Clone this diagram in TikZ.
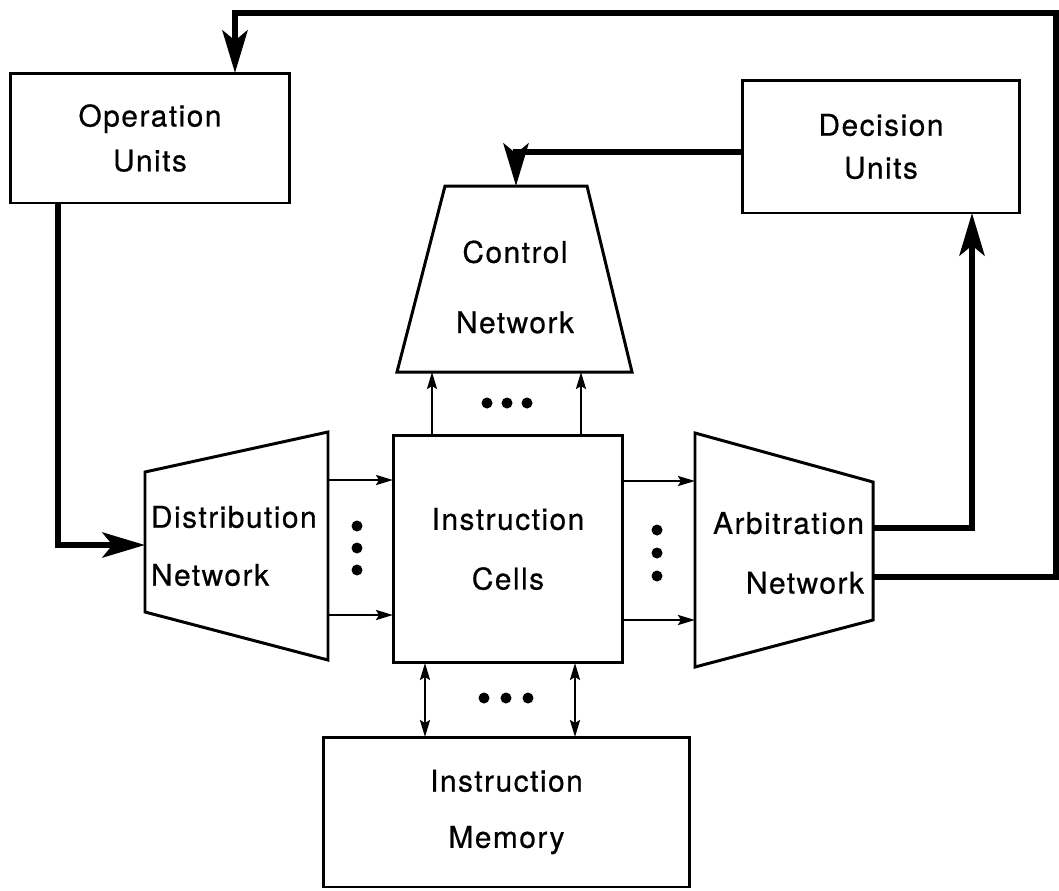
\documentclass[tikz,border=0pt]{standalone}
\usepackage{fontspec}
\setmainfont{TeX Gyre Heros}[LetterSpace=5,FakeBold=0.6]
\usetikzlibrary{calc,positioning,arrows.meta}

\begin{document}
\begin{tikzpicture}[x=0.02cm, y=-0.02cm
    , every node/.style={inner sep=0pt, outer sep=0pt}
    , unit/.style={draw, line width=1.7pt, rectangle, align=center}
    , net/.style={draw, line width=1.7pt, line join=miter}
    , wire/.style={line width=1.4pt, -{Stealth[length=0.34cm,width=0.2cm,inset=0.06cm]}}
    , dwire/.style={line width=1.4pt, {Stealth[length=0.34cm,width=0.2cm,inset=0.06cm]}-{Stealth[length=0.34cm,width=0.2cm,inset=0.06cm]}}
    , bus/.style={line width=3.6pt, -{Stealth[length=0.85cm,width=0.5cm,inset=0.2cm]}}
]
    \fontsize{17}{20}\selectfont
    \useasboundingbox (0,0) rectangle (1059,890);

    % Units
    \node[unit, minimum width=5.6cm, minimum height=2.6cm] (opunits) at (150,138)
        {Operation\\[5.5pt]Units};
    \node[unit, minimum width=5.56cm, minimum height=2.66cm] (decision) at (881,146.5)
        {Decision\\[4.4pt]Units};

    % Cells and memory
    \node[unit, minimum width=4.6cm, minimum height=4.56cm] (cells) at (508,549)
        {Instruction\\[14pt]Cells};
    \node[unit, minimum width=7.34cm, minimum height=3cm] (memory) at (506.5,812)
        {Instruction\\[12pt]Memory};

    % Control network
    \draw[net] (445,186) coordinate (controlnw) -- (587,186) coordinate (controlne)
        -- (632,372) coordinate (controlse) -- (397,372) coordinate (controlsw) -- cycle;
    \coordinate (controltop) at ($(controlnw)!0.5!(controlne)$);
    \node[align=center] (control) at (515,287) {Control\\[20pt]Network};

    % Distribution network
    \draw[net] (145,472) coordinate (distnw) -- (328,432) coordinate (distne)
        -- (328,660) coordinate (distse) -- (145,612) coordinate (distsw) -- cycle;
    \node[align=left, anchor=west] (dist) at (151,546) {Distribution\\[13pt]Network};

    % Arbitration network
    \draw[net] (695,433) coordinate (arbnw) -- (873,482) coordinate (arbne)
        -- (873,620) coordinate (arbse) -- (695,667) coordinate (arbsw) -- cycle;
    \node[align=right, anchor=east] (arb) at (864,553) {Arbitration\\[14pt]Network};

    % Thin connections
    \foreach \y in {480,615}
        \draw[wire] (distne |- 0,\y) -- (cells.west |- 0,\y);
    \foreach \y in {481,620}
        \draw[wire] (cells.east |- 0,\y) -- (arbnw |- 0,\y);
    \foreach \x in {432,581}
        \draw[wire] (cells.north -| \x,0) -- (controlsw -| \x,0);
    \foreach \x in {425,575}
        \draw[dwire] (cells.south -| \x,0) -- (memory.north -| \x,0);

    % Dots
    \foreach \x in {487,507,527} \fill (\x,403) circle[radius=5.5];
    \foreach \x in {484,506,528} \fill (\x,698) circle[radius=5.5];
    \foreach \y in {526,548,570} \fill (357,\y) circle[radius=5.5];
    \foreach \y in {530,553,576} \fill (657,\y) circle[radius=5.5];

    % Feedback
    \draw[bus] (opunits.south -| 58,0) |- (distnw |- 0,545);
    \draw[bus] (arbne |- 0,528) -| (decision.south -| 972,0);
    \draw[bus] (decision.west |- 0,152) -| (controltop);
    \draw[bus] (arbne |- 0,577) -| (1056,13) -| (opunits.north -| 235,0);

\end{tikzpicture}
\end{document}
